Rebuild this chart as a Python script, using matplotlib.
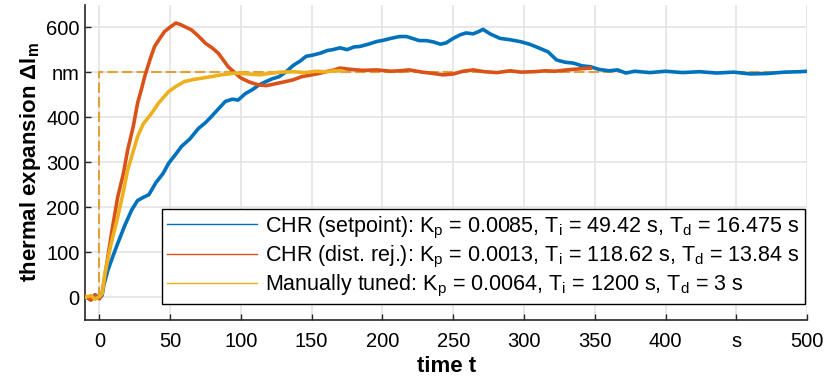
import numpy as np
import matplotlib
matplotlib.use("Agg")
import matplotlib.pyplot as plt
from matplotlib.lines import Line2D

plt.rcParams['font.family'] = ['Liberation Sans', 'DejaVu Sans']
plt.rcParams['mathtext.fontset'] = 'custom'
plt.rcParams['mathtext.rm'] = 'Liberation Sans'
plt.rcParams['mathtext.it'] = 'Liberation Sans:italic'
plt.rcParams['mathtext.bf'] = 'Liberation Sans:bold'

# CHR (setpoint)
t_sp = [-10, -6, -3, 0, 2, 3, 6, 10, 13, 18, 23, 27, 31, 35, 40, 45, 49, 54, 58, 64, 70, 75, 79, 84, 89, 94, 98,
        103, 108, 113, 117, 122, 127, 132, 137, 142, 146, 151, 156, 161, 165, 170, 175, 180, 184, 190, 196, 201,
        206, 212, 217, 222, 226, 231, 236, 241, 245, 250, 255, 259, 264, 268, 271, 276, 283, 290, 297, 304, 311,
        317, 323, 329, 335, 341, 347, 353, 360, 366, 372, 378, 389, 400, 412, 424, 436, 448, 460, 472, 484, 495, 500]
y_sp = [2, -5, 6, -2, 5, 25, 60, 95, 120, 160, 195, 215, 222, 228, 255, 275, 298, 318, 335, 352, 375, 388, 401,
        418, 435, 440, 438, 452, 461, 472, 478, 485, 490, 501, 515, 525, 535, 538, 542, 548, 550, 554, 550, 556,
        557, 562, 568, 571, 575, 579, 579, 574, 570, 570, 567, 562, 565, 575, 583, 587, 585, 590, 595, 585, 575,
        572, 568, 562, 553, 545, 527, 522, 520, 514, 512, 506, 503, 505, 498, 502, 499, 502, 499, 501, 498, 500,
        496, 497, 500, 501, 502]

# CHR (dist. rej.)
t_dr = [-10, -6, -3, 0, 2, 5, 9, 13, 17, 20, 24, 27, 30, 32, 36, 39, 43, 46, 50, 54, 57, 61, 65, 70, 75, 80, 84,
        88, 91, 96, 100, 106, 112, 118, 124, 130, 137, 143, 150, 155, 160, 166, 170, 178, 186, 196, 206, 212, 219,
        228, 236, 243, 250, 257, 264, 272, 281, 290, 298, 307, 315, 322, 330, 338, 347]
y_dr = [3, -6, 5, -3, 10, 70, 150, 223, 275, 327, 380, 431, 465, 490, 530, 557, 576, 590, 600, 609, 606, 600,
        594, 580, 564, 553, 542, 525, 512, 498, 487, 478, 472, 470, 474, 478, 483, 490, 494, 497, 501, 505, 509,
        506, 504, 505, 502, 503, 505, 500, 497, 494, 496, 502, 505, 501, 499, 503, 500, 501, 503, 502, 505, 507, 509]

# Manually tuned
t_mt = [-10, -6, -3, 0, 2, 4, 8, 13, 17, 20, 24, 27, 31, 37, 42, 49, 54, 60, 67, 73, 79, 86, 96, 105, 113, 120,
        128, 137, 145, 153, 160, 166, 171]
y_mt = [0, 4, -4, 2, 8, 53, 115, 179, 235, 283, 325, 357, 385, 409, 432, 457, 468, 479, 484, 487, 490, 494, 498,
        496, 494, 497, 500, 501, 499, 502, 501, 503, 503]

# setpoint
t_set = [0, 0, 500]
y_set = [0, 500, 500]

labels = [r'CHR (setpoint): K$_\mathrm{p}$ = 0.0085, T$_\mathrm{i}$ = 49.42 s, T$_\mathrm{d}$ = 16.475 s',
          r'CHR (dist. rej.): K$_\mathrm{p}$ = 0.0013, T$_\mathrm{i}$ = 118.62 s, T$_\mathrm{d}$ = 13.84 s',
          r'Manually tuned: K$_\mathrm{p}$ = 0.0064, T$_\mathrm{i}$ = 1200 s, T$_\mathrm{d}$ = 3 s']
colors = ['#0072BD', '#D95319', '#EDB120']

xticks = [0, 50, 100, 150, 200, 250, 300, 350, 400, 450, 500]
xticklabels = ['0', '50', '100', '150', '200', '250', '300', '350', '400', 's', '500']
yticks = [0, 100, 200, 300, 400, 500, 600]
yticklabels = ['0', '100', '200', '300', '400', 'nm', '600']

fig = plt.figure(figsize=(8.27, 3.8), dpi=100)
ax = fig.add_axes([0.103, 0.158, 0.873, 0.83])

ax.plot(t_set, y_set, color='#DFA23A', lw=1.5, dashes=(5, 2), zorder=2)
for tt, yy, c in zip([t_sp, t_dr, t_mt], [y_sp, y_dr, y_mt], colors):
    ax.plot(tt, yy, color=c, lw=2.6, zorder=3)

ax.set_xlim(-10, 500)
ax.set_ylim(-50, 650)
ax.set_xticks(xticks)
ax.set_xticklabels(xticklabels)
ax.set_yticks(yticks)
ax.set_yticklabels(yticklabels)
ax.tick_params(direction='in', length=4, width=1, labelsize=14.5, colors='#262626', labelcolor='black')
ax.tick_params(axis='x', pad=9)
ax.tick_params(axis='y', pad=4)
ax.grid(True, color='#E6E6E6', lw=1.3)
ax.set_axisbelow(True)
for s in ['top', 'right']:
    ax.spines[s].set_visible(False)
for s in ['left', 'bottom']:
    ax.spines[s].set_color('#262626')
    ax.spines[s].set_linewidth(1.2)

ax.set_xlabel('time t', fontsize=16, fontweight='bold', labelpad=3)
ax.set_ylabel(r'thermal expansion Δl$_\mathbf{m}$', fontsize=16, fontweight='bold', labelpad=2)

handles = [Line2D([], [], color=c, lw=1) for c in colors]
leg = ax.legend(handles, labels, loc='lower right', bbox_to_anchor=(0.997, 0.05), borderaxespad=0,
                fontsize=15.5, handlelength=4.2, frameon=True, fancybox=False, framealpha=1,
                labelspacing=0.14, borderpad=0.25, handletextpad=0.35)
leg.get_frame().set_edgecolor('black')
leg.get_frame().set_linewidth(1)

fig.savefig('out.png', dpi=100)
